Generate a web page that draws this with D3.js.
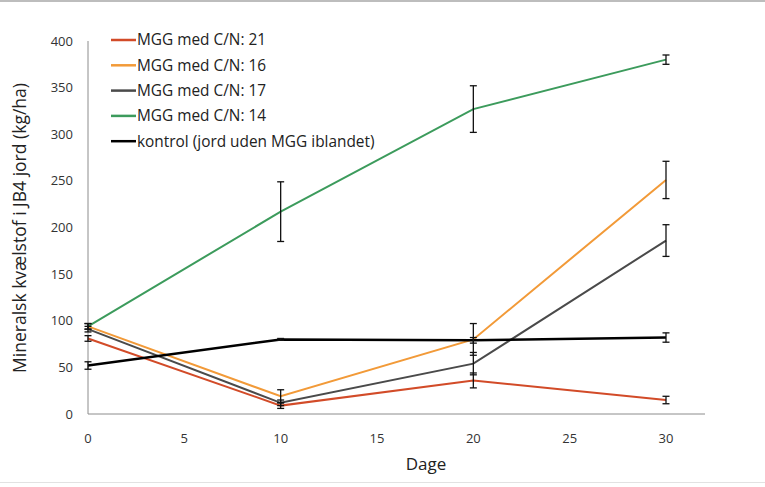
<!DOCTYPE html>
<html><head><meta charset="utf-8">
<script src="https://cdn.jsdelivr.net/npm/d3@7"></script>
<style>body{margin:0;background:#fff}svg{display:block}text{font-family:"Open Sans",Lato,sans-serif}</style>
</head><body>
<svg id="c" width="765" height="487"></svg>
<script>
const days = [0, 10, 20, 30];
const seriesNames = ["MGG med C/N: 21", "MGG med C/N: 16", "MGG med C/N: 17", "MGG med C/N: 14", "kontrol (jord uden MGG iblandet)"];
const seriesColors = ["#d24b28", "#f29a38", "#4a4a4a", "#3c9b5c", "#000000"];
const cn21 = [81, 9, 36, 15];
const cn21err = [3, 3, 8, 4];
const cn16 = [94, 19, 80, 251];
const cn16err = [3, 7, 17, 20];
const cn17 = [91, 12, 54, 186];
const cn17err = [3, 3, 12, 17];
const cn14 = [94, 217, 327, 380];
const cn14err = [3, 32, 25, 5];
const kontrol = [52, 80, 79, 82];
const kontrolErr = [4, 1, 3, 5];
const xTicks = [0, 5, 10, 15, 20, 25, 30];
const yTicks = [0, 50, 100, 150, 200, 250, 300, 350, 400];

const values = [cn21, cn16, cn17, cn14, kontrol];
const errs = [cn21err, cn16err, cn17err, cn14err, kontrolErr];

const svg = d3.select("#c");
svg.append("rect").attr("x",0).attr("y",0).attr("width",765).attr("height",2).attr("fill","#bdbdbd");
svg.append("rect").attr("x",0).attr("y",482).attr("width",765).attr("height",1).attr("fill","#e2e2e2");

const x = d3.scaleLinear().domain([0, 30]).range([88, 666]);
const y = d3.scaleLinear().domain([0, 400]).range([414, 41]);

svg.append("line").attr("x1",88).attr("x2",88).attr("y1",y(400)).attr("y2",y(0)).attr("stroke","#8c8c8c").attr("stroke-width",1);
svg.append("line").attr("x1",88).attr("x2",705).attr("y1",y(0)).attr("y2",y(0)).attr("stroke","#8c8c8c").attr("stroke-width",1);

svg.selectAll(".yt").data(yTicks).enter().append("text")
  .attr("x", 73).attr("y", d => y(d)).attr("dy","0.35em").attr("text-anchor","end")
  .attr("font-size",13).attr("fill","#333").text(d => d);
svg.selectAll(".xt").data(xTicks).enter().append("text")
  .attr("x", d => x(d)).attr("y", 443).attr("text-anchor","middle")
  .attr("font-size",13).attr("fill","#333").text(d => d);

svg.append("text").attr("x",426).attr("y",470).attr("text-anchor","middle").attr("font-size",17).attr("fill","#222").text("Dage");
svg.append("text").attr("transform","translate(26,228) rotate(-90)").attr("text-anchor","middle").attr("font-size",17.5).attr("fill","#222").text("Mineralsk kvælstof i JB4 jord  (kg/ha)");

const line = d3.line().x((d,i) => x(days[i])).y(d => y(d));

values.forEach((vals, s) => {
  svg.append("path").datum(vals).attr("d", line).attr("fill","none")
    .attr("stroke", seriesColors[s]).attr("stroke-width", s === 4 ? 2.5 : 2);
});

values.forEach((vals, s) => {
  const g = svg.append("g");
  vals.forEach((v, i) => {
    const e = errs[s][i];
    const cx = x(days[i]);
    g.append("line").attr("x1",cx).attr("x2",cx).attr("y1",y(v+e)).attr("y2",y(v-e)).attr("stroke","#111").attr("stroke-width",1.3);
    [v+e, v-e].forEach(t => g.append("line").attr("x1",cx-3.5).attr("x2",cx+3.5).attr("y1",y(t)).attr("y2",y(t)).attr("stroke","#111").attr("stroke-width",1.3));
  });
});

const lg = svg.append("g");
seriesNames.forEach((n, i) => {
  const ly = 40 + i * 25.3;
  lg.append("line").attr("x1",111).attr("x2",136).attr("y1",ly).attr("y2",ly).attr("stroke",seriesColors[i]).attr("stroke-width",2.5);
  lg.append("text").attr("x",137).attr("y",ly).attr("dy","0.35em").attr("font-size",15.4).attr("fill","#222").text(n);
});
</script>
</body></html>
